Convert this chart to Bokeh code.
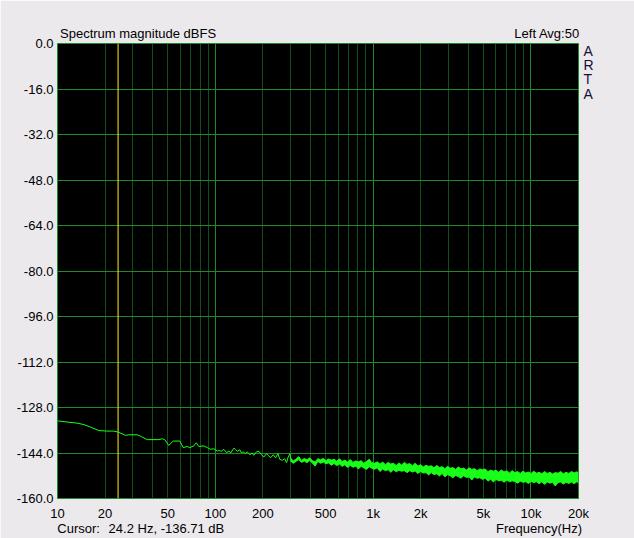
from bokeh.plotting import figure
from bokeh.models import FixedTicker, PrintfTickFormatter, Span, LogAxis, LinearAxis
from bokeh.embed import file_html
from bokeh.resources import INLINE

# ---------------- data ----------------
low_freq = [10, 11.5, 13.3, 14.7, 16.2, 18.3, 20.5, 22.7, 24.4, 27.0, 28.3, 32.0, 33.6,
            37.0, 43.9, 46.1, 47.8, 50.7, 54.1, 59.6, 62.6, 66.4, 68.9, 73.1, 75.7, 78.6,
            84.6, 88.9, 93.2, 97.8, 102.8, 105, 109, 113, 118, 122, 125, 131, 134, 138,
            143, 146, 150, 155, 159, 166, 171, 175, 182, 189, 195, 203, 211, 218, 224,
            233, 241, 249, 256, 265, 275, 283, 288, 297, 303]
low_db = [-132.7, -133.1, -133.5, -134.0, -134.9, -136.1, -136.3, -136.3, -136.7, -137.8,
          -137.6, -137.6, -138.1, -139.3, -139.3, -139.0, -139.3, -141.3, -139.8, -139.8,
          -142.1, -141.7, -142.1, -141.5, -140.4, -141.7, -141.5, -142.1, -142.7, -142.5,
          -143.3, -143.1, -143.4, -142.7, -143.9, -143.3, -144.0, -142.3, -142.7, -143.4,
          -142.9, -143.9, -143.6, -144.2, -143.6, -144.6, -144.0, -144.8, -143.6, -143.4,
          -144.5, -145.4, -144.2, -145.0, -145.7, -144.6, -145.7, -144.2, -146.2, -146.6,
          -146.0, -147.4, -145.7, -144.2, -147.1]

band_freq = [300, 312, 325, 338, 352, 366, 381, 396, 412, 429,
             446, 464, 483, 502, 522, 543, 565, 588, 612, 636,
             662, 689, 716, 745, 775, 806, 839, 872, 907, 944,
             982, 1020, 1060, 1105, 1150, 1195, 1245, 1295, 1345, 1400,
             1455, 1515, 1575, 1640, 1705, 1775, 1845, 1920, 1995, 2075,
             2160, 2245, 2335, 2430, 2530, 2630, 2735, 2845, 2960, 3080,
             3200, 3330, 3465, 3600, 3745, 3895, 4055, 4215, 4385, 4560,
             4745, 4935, 5130, 5340, 5550, 5775, 6005, 6245, 6495, 6755,
             7030, 7310, 7600, 7905, 8225, 8555, 8895, 9255, 9625, 10010,
             10410, 10830, 11260, 11715, 12180, 12670, 13180, 13710, 14255, 14825,
             15420, 16040, 16680, 17350, 18045, 18770, 19520, 20000]
band_upper = [-145.8, -146.8, -146.1, -145.3, -146.6, -145.9, -146.4, -145.7, -146.7, -147.1,
              -146.0, -146.4, -145.9, -146.7, -146.1, -146.5, -146.2, -146.9, -146.0, -147.0,
              -146.5, -147.2, -146.3, -147.3, -146.8, -147.1, -146.7, -147.6, -147.0, -146.2,
              -147.4, -147.6, -147.1, -147.9, -147.2, -148.1, -147.3, -147.9, -147.6, -148.4,
              -147.5, -148.2, -147.3, -148.0, -147.7, -148.5, -147.6, -148.6, -148.1, -148.9,
              -148.3, -148.7, -148.5, -149.2, -148.4, -149.1, -148.8, -149.5, -148.7, -149.4,
              -149.1, -149.8, -148.9, -149.6, -149.3, -150.0, -149.2, -149.8, -149.5, -150.2,
              -149.6, -149.9, -149.6, -150.6, -150.0, -150.4, -150.1, -150.8, -150.0, -150.6,
              -150.3, -151.0, -150.2, -150.9, -150.5, -151.2, -150.4, -151.0, -150.7, -151.2,
              -150.4, -151.1, -150.8, -151.3, -150.5, -151.2, -150.8, -151.4, -150.9, -151.1,
              -150.5, -151.3, -150.8, -151.2, -150.5, -151.0, -150.6, -151.0]
band_lower = [-146.9, -147.6, -146.9, -146.3, -147.3, -146.8, -147.4, -146.6, -147.5, -148.6,
              -147.0, -147.6, -147.2, -147.8, -147.5, -148.3, -147.7, -148.4, -147.9, -148.7,
              -148.1, -149.1, -148.3, -149.0, -148.6, -149.6, -148.7, -149.2, -149.8, -148.8,
              -149.4, -149.7, -149.2, -150.5, -149.6, -150.2, -149.9, -150.8, -149.9, -150.6,
              -150.1, -150.4, -150.2, -150.9, -150.2, -150.7, -150.3, -151.2, -150.5, -151.0,
              -150.9, -151.7, -150.9, -151.6, -151.3, -152.1, -151.2, -152.4, -151.6, -152.0,
              -152.7, -151.9, -152.3, -152.9, -152.0, -152.6, -152.4, -153.5, -152.4, -152.9,
              -152.7, -153.3, -152.8, -153.9, -153.2, -154.2, -153.3, -153.8, -153.6, -154.3,
              -153.5, -154.1, -153.8, -154.0, -154.6, -153.9, -154.3, -154.1, -154.7, -154.0,
              -154.4, -154.1, -154.8, -154.1, -155.0, -154.2, -154.6, -154.3, -155.6, -154.4,
              -154.2, -154.9, -154.3, -154.7, -154.2, -154.8, -154.1, -154.5]

x_tick_values = [10, 20, 50, 100, 200, 500, 1000, 2000, 5000, 10000, 20000]
x_tick_labels = ["10", "20", "50", "100", "200", "500", "1k", "2k", "5k", "10k", "20k"]
y_tick_values = [0, -16, -32, -48, -64, -80, -96, -112, -128, -144, -160]
decade_lines = [10, 100, 1000, 10000]
minor_lines = [20, 30, 40, 50, 60, 70, 80, 90,
               200, 300, 400, 500, 600, 700, 800, 900,
               2000, 3000, 4000, 5000, 6000, 7000, 8000, 9000]
cursor_freq = 24.2

title_text = "Spectrum magnitude dBFS"
channel_text = "Left Avg:50"
brand_letters = ["A", "R", "T", "A"]
cursor_label = "Cursor:"
cursor_value = "24.2 Hz, -136.71 dB"
x_title = "Frequency(Hz)"

# ---------------- layout / styling ----------------
# anchor points (x in Hz, y in dB) at which the header/footer texts are centred
top_anchor = [32.4, 12650]
bottom_anchor = [13.6, 49.0, 11250]
brand_anchor = [-2.73, -7.71, -12.62, -17.63]

BG = "#ECE9ED"
MAJOR = "#1E8A28"
MINOR = "#114F18"
TRACE = "#18FF18"
FONT = "Liberation Sans"
FS = "13px"

p = figure(width=634, height=538, x_axis_type="log", x_range=(10, 20000), y_range=(-160, 0),
           output_backend="svg", toolbar_location=None,
           min_border_left=57, min_border_right=56, min_border_top=43, min_border_bottom=38)
p.background_fill_color = "black"
p.border_fill_color = BG
p.outline_line_color = MAJOR
p.outline_line_width = 1

p.xgrid.ticker = FixedTicker(ticks=decade_lines, minor_ticks=minor_lines)
p.xgrid.grid_line_color = MAJOR
p.xgrid.minor_grid_line_color = MINOR
p.ygrid.ticker = FixedTicker(ticks=y_tick_values)
p.ygrid.grid_line_color = MAJOR


def style_axis(ax, standoff):
    ax.axis_line_color = None
    ax.major_tick_line_color = None
    ax.minor_tick_line_color = None
    ax.major_tick_out = 0
    ax.major_tick_in = 0
    ax.minor_tick_out = 0
    ax.minor_tick_in = 0
    ax.major_label_text_font = FONT
    ax.major_label_text_font_size = FS
    ax.major_label_text_color = "black"
    ax.major_label_standoff = standoff


style_axis(p.xaxis[0], 7)
style_axis(p.yaxis[0], 4)
p.xaxis.ticker = FixedTicker(ticks=x_tick_values)
p.xaxis.major_label_overrides = {v: t for v, t in zip(x_tick_values, x_tick_labels)}
p.yaxis.ticker = FixedTicker(ticks=y_tick_values)
p.yaxis.formatter = PrintfTickFormatter(format="%.1f")

# header line (title left, channel info right)
top_axis = LogAxis(ticker=FixedTicker(ticks=top_anchor),
                   major_label_overrides={top_anchor[0]: title_text, top_anchor[1]: channel_text})
style_axis(top_axis, 3)
p.add_layout(top_axis, "above")

# footer line (cursor read-out left, axis title right)
foot_axis = LogAxis(ticker=FixedTicker(ticks=bottom_anchor),
                    major_label_overrides={bottom_anchor[0]: cursor_label,
                                           bottom_anchor[1]: cursor_value,
                                           bottom_anchor[2]: x_title})
style_axis(foot_axis, -3)
p.add_layout(foot_axis, "below")

# vertical "ARTA" brand on the right
brand_axis = LinearAxis(ticker=FixedTicker(ticks=brand_anchor),
                        major_label_overrides={v: t for v, t in zip(brand_anchor, brand_letters)})
style_axis(brand_axis, 5)
brand_axis.major_label_text_color = "#14103A"
brand_axis.major_label_text_font_size = "14px"
p.add_layout(brand_axis, "right")

cursor = Span(location=cursor_freq, dimension="height", line_color="#FFF21A", line_width=1,
              level="underlay")
p.add_layout(cursor)

p.varea(x=band_freq, y1=band_lower, y2=band_upper, fill_color=TRACE)
p.line(band_freq, band_upper, line_color=TRACE, line_width=1)
p.line(band_freq, band_lower, line_color=TRACE, line_width=1)
p.line(low_freq, low_db, line_color=TRACE, line_width=1)

open("out.html", "w").write(file_html(p, INLINE))
